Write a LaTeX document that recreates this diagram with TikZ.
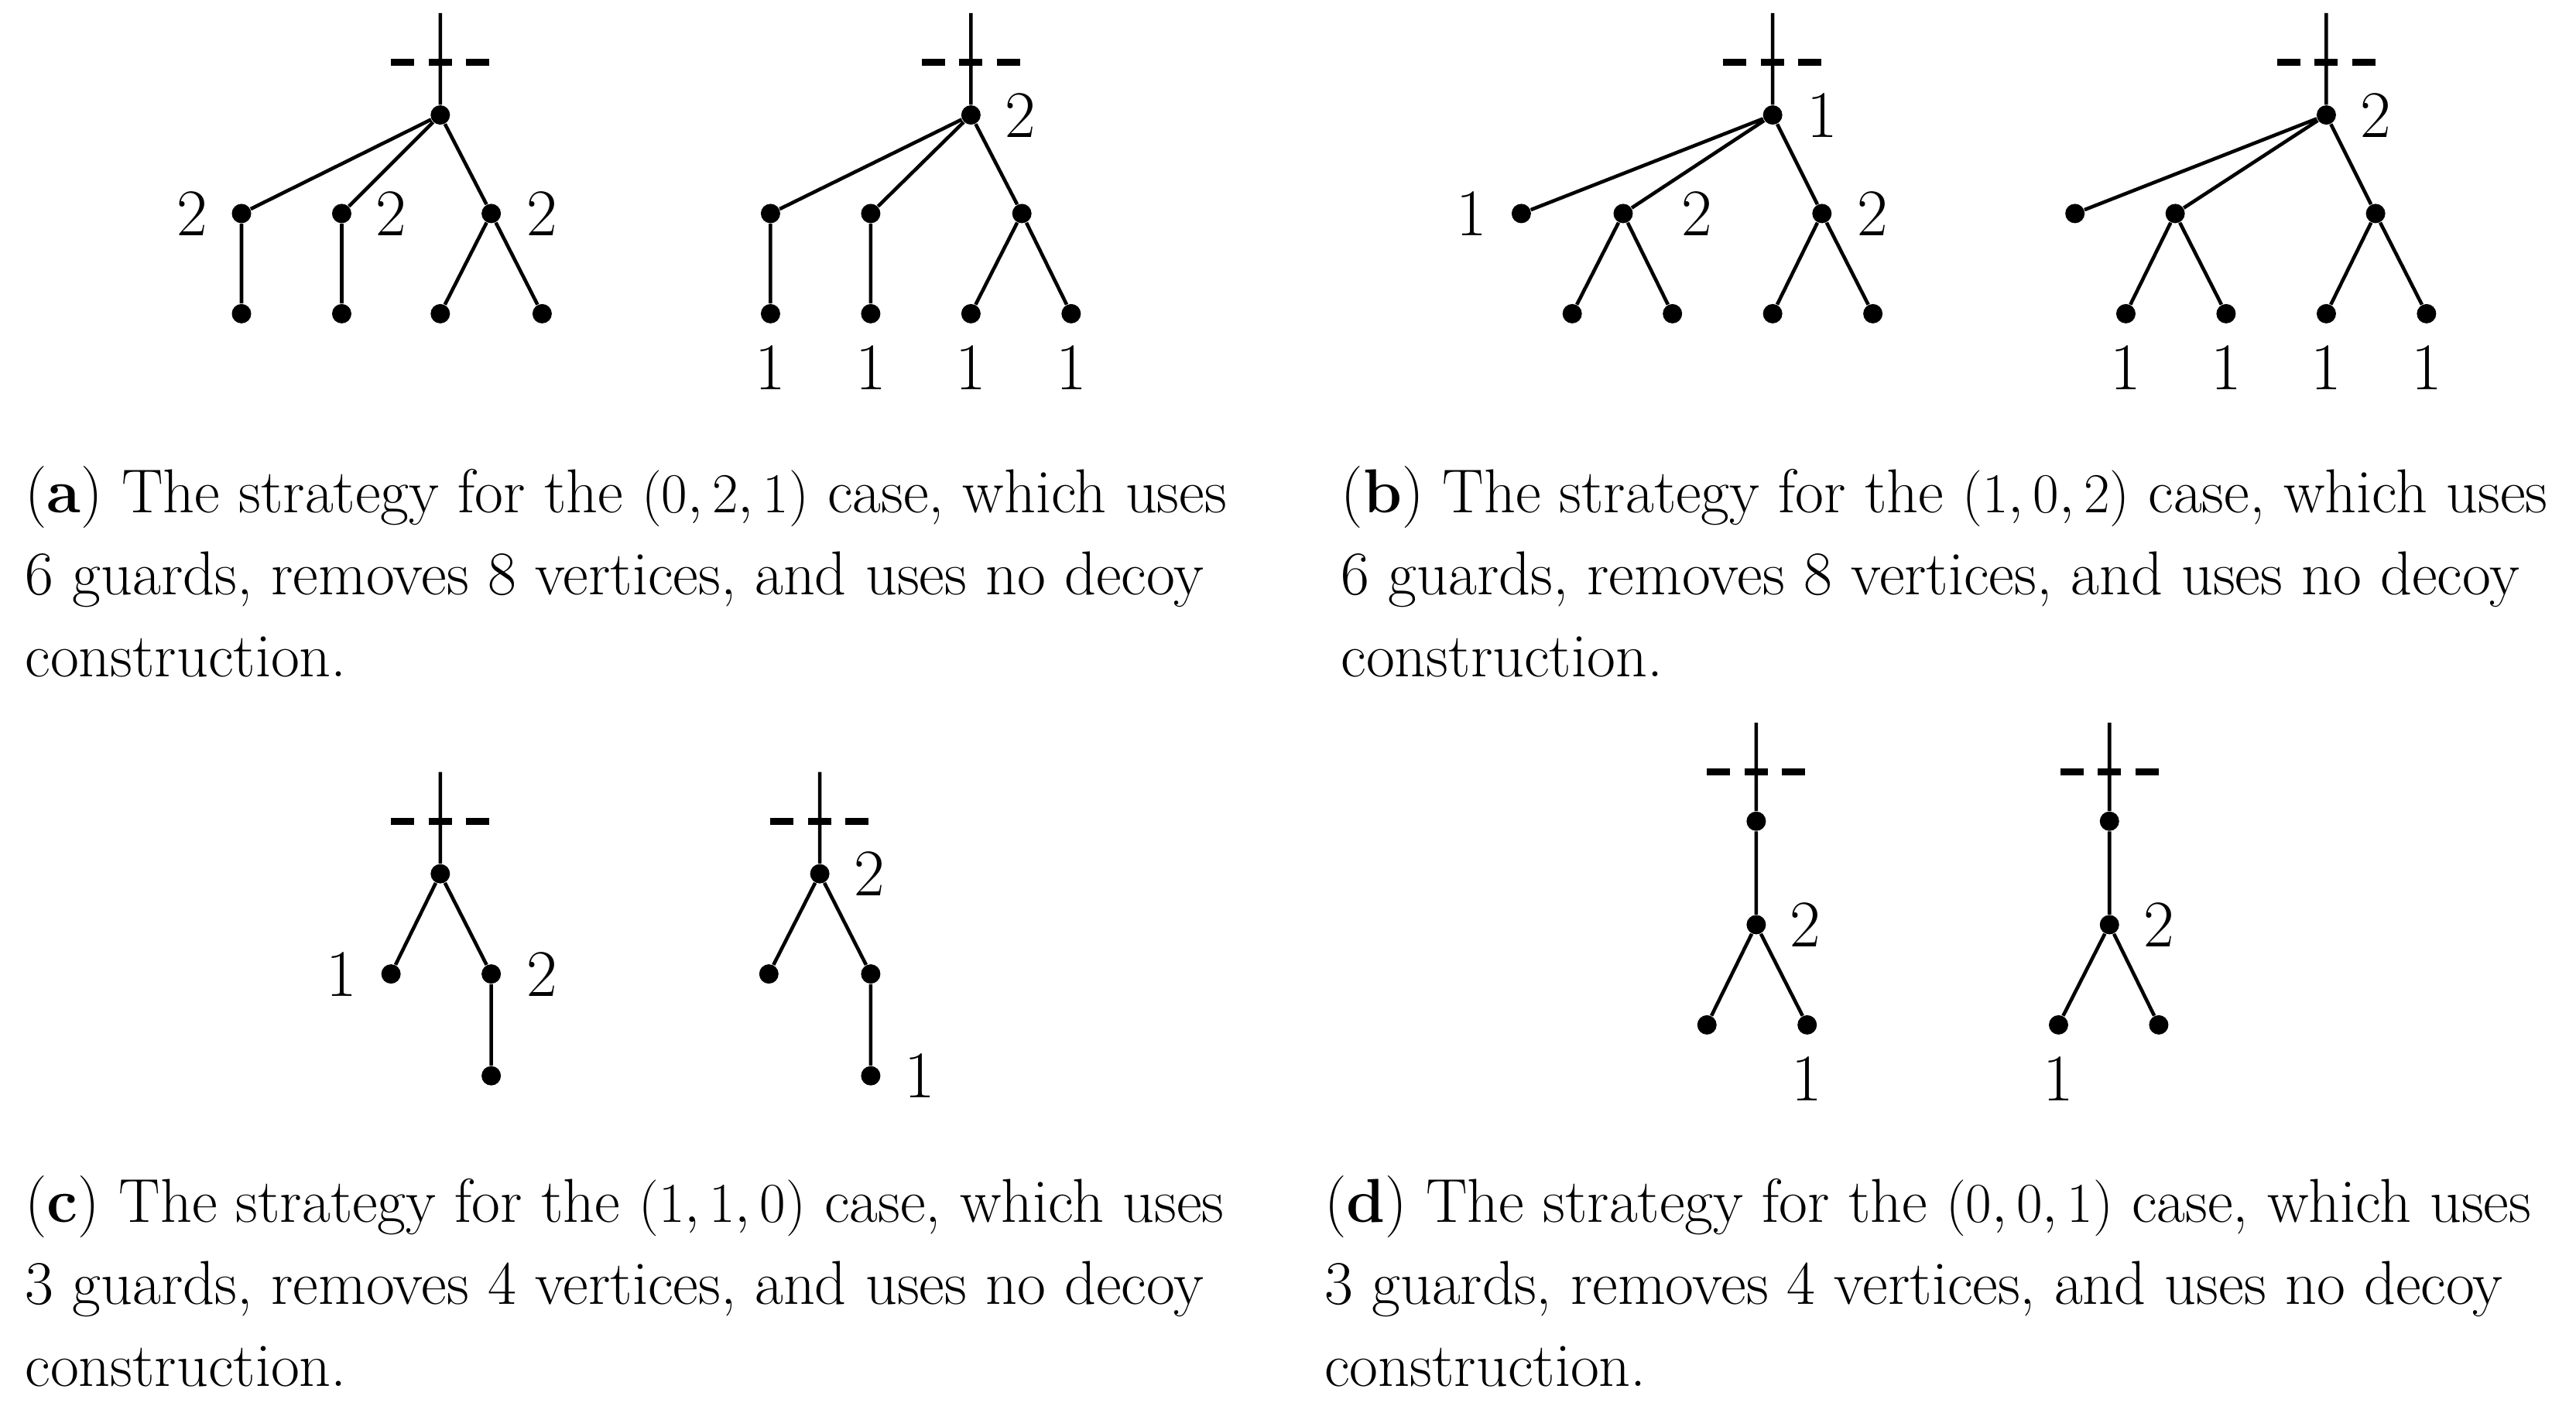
\documentclass[tikz,border=0pt]{standalone}
\begin{document}
\begin{tikzpicture}[x=0.02122cm,y=-0.02122cm,
  v/.style={circle,fill=black,inner sep=0pt,minimum size=0.25cm},
  e/.style={line width=1.3pt},
  dsh/.style={line width=2.6pt,dash pattern=on 0.3cm off 0.185cm},
  lab/.style={font=\fontsize{24.5}{28}\selectfont,inner sep=0pt},
  captxt/.style={font=\fontsize{22.8}{30}\selectfont,anchor=base west,inner sep=0pt}]
\useasboundingbox (0,0) rectangle (1568,860);
% (a) left
\coordinate (at) at (268,8);
\node[v] (ar) at (268,70) {};
\node[v] (a1) at (147,130) {}; \node[v] (a2) at (208,130) {}; \node[v] (a3) at (299,130) {};
\node[v] (a4) at (147,191) {}; \node[v] (a5) at (208,191) {}; \node[v] (a6) at (268,191) {}; \node[v] (a7) at (330,191) {};
\draw[e] (at)--(ar) (ar)--(a1) (ar)--(a2) (ar)--(a3) (a1)--(a4) (a2)--(a5) (a3)--(a6) (a3)--(a7);
\coordinate (ad1) at (238,38); \coordinate (ad2) at (298,38); \draw[dsh] (ad1)--(ad2);
\node[lab] (al1) at (117,130) {2}; \node[lab] (al2) at (238,130) {2}; \node[lab] (al3) at (330,130) {2};
% (a) right
\coordinate (bt) at (591,8);
\node[v] (br) at (591,70) {};
\node[v] (b1) at (469,130) {}; \node[v] (b2) at (530,130) {}; \node[v] (b3) at (622,130) {};
\node[v] (b4) at (469,191) {}; \node[v] (b5) at (530,191) {}; \node[v] (b6) at (591,191) {}; \node[v] (b7) at (652,191) {};
\draw[e] (bt)--(br) (br)--(b1) (br)--(b2) (br)--(b3) (b1)--(b4) (b2)--(b5) (b3)--(b6) (b3)--(b7);
\coordinate (bd1) at (561,38); \coordinate (bd2) at (621,38); \draw[dsh] (bd1)--(bd2);
\node[lab] (bl0) at (621,70) {2};
\node[lab] (bl1) at (469,224) {1}; \node[lab] (bl2) at (530,224) {1}; \node[lab] (bl3) at (591,224) {1}; \node[lab] (bl4) at (652,224) {1};
% (b) left
\coordinate (ct) at (1079,8);
\node[v] (cr) at (1079,70) {};
\node[v] (c1) at (926,130) {}; \node[v] (c2) at (988,130) {}; \node[v] (c3) at (1109,130) {};
\node[v] (c4) at (957,191) {}; \node[v] (c5) at (1018,191) {}; \node[v] (c6) at (1079,191) {}; \node[v] (c7) at (1140,191) {};
\draw[e] (ct)--(cr) (cr)--(c1) (cr)--(c2) (cr)--(c3) (c2)--(c4) (c2)--(c5) (c3)--(c6) (c3)--(c7);
\coordinate (cd1) at (1049,38); \coordinate (cd2) at (1109,38); \draw[dsh] (cd1)--(cd2);
\node[lab] (cl0) at (1109,70) {1}; \node[lab] (cl1) at (896,130) {1};
\node[lab] (cl2) at (1033,130) {2}; \node[lab] (cl3) at (1140,130) {2};
% (b) right
\coordinate (dt) at (1416,8);
\node[v] (dr) at (1416,70) {};
\node[v] (d1) at (1263,130) {}; \node[v] (d2) at (1324,130) {}; \node[v] (d3) at (1446,130) {};
\node[v] (d4) at (1294,191) {}; \node[v] (d5) at (1355,191) {}; \node[v] (d6) at (1416,191) {}; \node[v] (d7) at (1477,191) {};
\draw[e] (dt)--(dr) (dr)--(d1) (dr)--(d2) (dr)--(d3) (d2)--(d4) (d2)--(d5) (d3)--(d6) (d3)--(d7);
\coordinate (dd1) at (1386,38); \coordinate (dd2) at (1446,38); \draw[dsh] (dd1)--(dd2);
\node[lab] (dl0) at (1446,70) {2};
\node[lab] (dl1) at (1294,224) {1}; \node[lab] (dl2) at (1355,224) {1}; \node[lab] (dl3) at (1416,224) {1}; \node[lab] (dl4) at (1477,224) {1};
% (c) left
\coordinate (et) at (268,470);
\node[v] (er) at (268,532) {};
\node[v] (e1) at (238,593) {}; \node[v] (e2) at (299,593) {}; \node[v] (e3) at (299,655) {};
\draw[e] (et)--(er) (er)--(e1) (er)--(e2) (e2)--(e3);
\coordinate (ed1) at (238,500); \coordinate (ed2) at (298,500); \draw[dsh] (ed1)--(ed2);
\node[lab] (el1) at (208,593) {1}; \node[lab] (el2) at (330,593) {2};
% (c) right
\coordinate (ft) at (499,470);
\node[v] (fr) at (499,532) {};
\node[v] (f1) at (468,593) {}; \node[v] (f2) at (530,593) {}; \node[v] (f3) at (530,655) {};
\draw[e] (ft)--(fr) (fr)--(f1) (fr)--(f2) (f2)--(f3);
\coordinate (fd1) at (469,500); \coordinate (fd2) at (529,500); \draw[dsh] (fd1)--(fd2);
\node[lab] (fl0) at (529,532) {2}; \node[lab] (fl1) at (560,655) {1};
% (d) left
\coordinate (gt) at (1069,440);
\node[v] (g0) at (1069,500) {}; \node[v] (gr) at (1069,563) {};
\node[v] (g1) at (1039,624) {}; \node[v] (g2) at (1100,624) {};
\draw[e] (gt)--(g0) (g0)--(gr) (gr)--(g1) (gr)--(g2);
\coordinate (gd1) at (1039,470); \coordinate (gd2) at (1099,470); \draw[dsh] (gd1)--(gd2);
\node[lab] (gl0) at (1099,563) {2}; \node[lab] (gl1) at (1100,657) {1};
% (d) right
\coordinate (ht) at (1284,440);
\node[v] (h0) at (1284,500) {}; \node[v] (hr) at (1284,563) {};
\node[v] (h1) at (1253,624) {}; \node[v] (h2) at (1314,624) {};
\draw[e] (ht)--(h0) (h0)--(hr) (hr)--(h1) (hr)--(h2);
\coordinate (hd1) at (1254,470); \coordinate (hd2) at (1314,470); \draw[dsh] (hd1)--(hd2);
\node[lab] (hl0) at (1314,563) {2}; \node[lab] (hl1) at (1253,657) {1};
% captions
\node[captxt] (ca1) at (15,312) {(\textbf{a}) The strategy for the $(0,2,1)$ case, which uses};
\node[captxt] (ca2) at (15,362) {6 guards, removes 8 vertices, and uses no decoy};
\node[captxt] (ca3) at (15,412) {construction.};
\node[captxt] (cb1) at (816,312) {(\textbf{b}) The strategy for the $(1,0,2)$ case, which uses};
\node[captxt] (cb2) at (816,362) {6 guards, removes 8 vertices, and uses no decoy};
\node[captxt] (cb3) at (816,412) {construction.};
\node[captxt] (cc1) at (15,744) {(\textbf{c}) The strategy for the $(1,1,0)$ case, which uses};
\node[captxt] (cc2) at (15,794) {3 guards, removes 4 vertices, and uses no decoy};
\node[captxt] (cc3) at (15,844) {construction.};
\node[captxt] (cd1) at (806,744) {(\textbf{d}) The strategy for the $(0,0,1)$ case, which uses};
\node[captxt] (cd2) at (806,794) {3 guards, removes 4 vertices, and uses no decoy};
\node[captxt] (cd3) at (806,844) {construction.};
\end{tikzpicture}
\end{document}
